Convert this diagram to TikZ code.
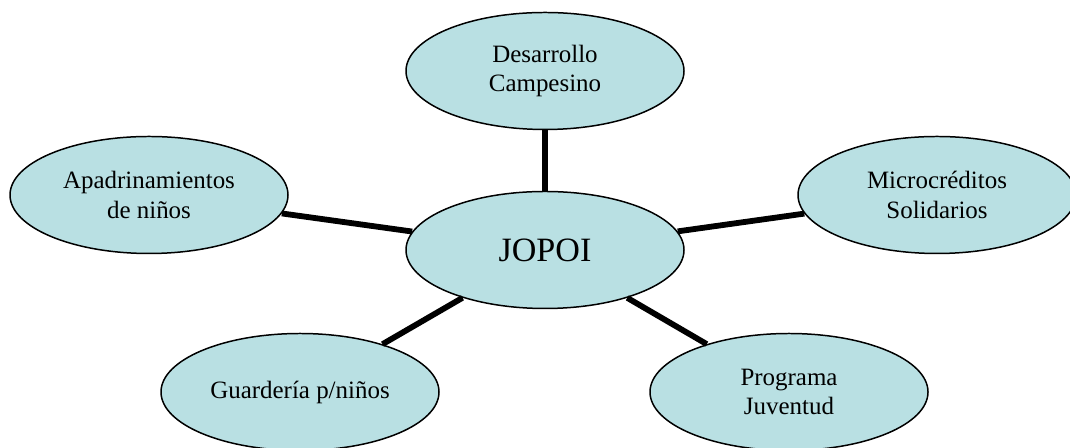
\documentclass[tikz,border=0pt]{standalone}
\usepackage{fontspec}
\setmainfont{Liberation Serif}
\usetikzlibrary{shapes.geometric}
\definecolor{areablue}{RGB}{185,224,227}

\begin{document}
\begin{tikzpicture}
            \tikzstyle{area} = [ellipse, draw=black, line width=0.85pt, fill=areablue, minimum width=5.56cm, minimum height=2.34cm, inner sep=0pt, align=center, font=\fontsize{14.2}{16.8}\selectfont]
            \tikzstyle{link} = [line width=3.3pt]
            \useasboundingbox (0, 0) rectangle (21.4, 8.96);
            \node[area, font=\fontsize{19.4}{23}\selectfont] (jopoi) at (10.9, 3.96) {JOPOI};
            \node[area] (desarrollo) at (10.9, 7.54) {Desarrollo\\Campesino};
            \node[area] (apadrinamientos) at (2.98, 5.06) {Apadrinamientos\\de niños};
            \node[area] (microcreditos) at (18.74, 5.06) {Microcréditos\\Solidarios};
            \node[area] (guarderia) at (6.0, 1.12) {Guardería p/niños};
            \node[area] (programa) at (15.78, 1.12) {Programa\\Juventud};
            \draw[link] (jopoi) -- (desarrollo);
            \draw[link] (jopoi) -- (apadrinamientos);
            \draw[link] (jopoi) -- (microcreditos);
            \draw[link] (jopoi) -- (guarderia);
            \draw[link] (jopoi) -- (programa);
        \end{tikzpicture}
\end{document}
